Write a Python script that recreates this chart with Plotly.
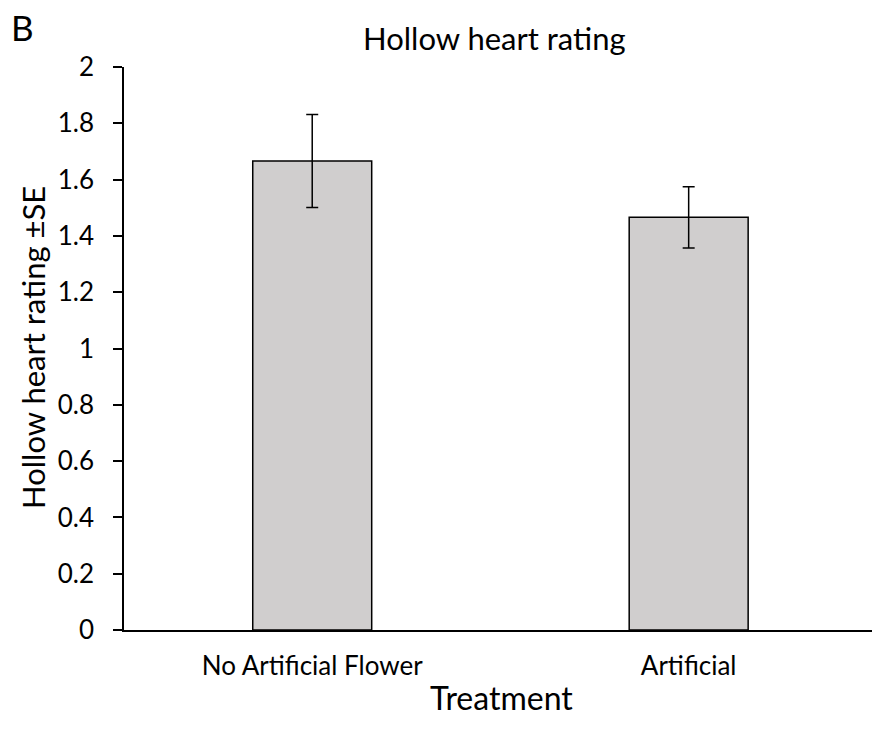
import plotly.graph_objects as go

categories = ["No Artificial Flower", "Artificial"]
means = [1.666, 1.466]
se = [0.165, 0.109]
y_ticks = [0, 0.2, 0.4, 0.6, 0.8, 1, 1.2, 1.4, 1.6, 1.8, 2]
y_tick_text = ["0", "0.2", "0.4", "0.6", "0.8", "1", "1.2", "1.4", "1.6", "1.8", "2"]

FONT = "Lato"
W, H = 872, 730
L, R, T, B = 124, 0, 67, 100

fig = go.Figure(go.Bar(
    x=[0, 1], y=means, width=0.316,
    marker=dict(color="#D0CECE", line=dict(color="black", width=1.5)),
    error_y=dict(type="data", array=se, visible=True, color="black", thickness=1.5, width=6),
))

fig.update_layout(
    width=W, height=H,
    margin=dict(l=L, r=R, t=T, b=B),
    plot_bgcolor="white", paper_bgcolor="white",
    font=dict(family=FONT, color="black"),
    showlegend=False,
    xaxis=dict(range=[-0.5, 1.487], tickvals=[0, 1], ticktext=categories,
               showline=True, linecolor="black", linewidth=1.5, ticks="",
               tickfont=dict(size=26), showgrid=False, zeroline=False,
               ticklabelstandoff=12),
    yaxis=dict(range=[0, 2], tickvals=y_ticks, ticktext=y_tick_text,
               showline=True, linecolor="black", linewidth=1.5,
               ticks="outside", ticklen=9, tickwidth=1.5, tickcolor="black",
               tickfont=dict(size=26), showgrid=False, zeroline=False,
               ticklabelstandoff=14),
)

pw = W - L - R
ph = H - T - B


def px2paper(px, py):
    return (px - L) / pw, (H - B - py) / ph


annots = [
    ("Hollow heart rating", 494, 38, 31, 0),
    ("B", 23, 27, 35, 0),
    ("Treatment", 501, 697, 32, 0),
    ("Hollow heart rating ±SE", 33, 348, 31, -90),
]
for text, px, py, size, ang in annots:
    x, y = px2paper(px, py)
    fig.add_annotation(text=text, x=x, y=y, xref="paper", yref="paper",
                       showarrow=False, font=dict(size=size, family=FONT),
                       textangle=ang, xanchor="center", yanchor="middle")

fig.write_html("out.html", config={"displayModeBar": False},
               post_script="document.body.style.margin='0';")
